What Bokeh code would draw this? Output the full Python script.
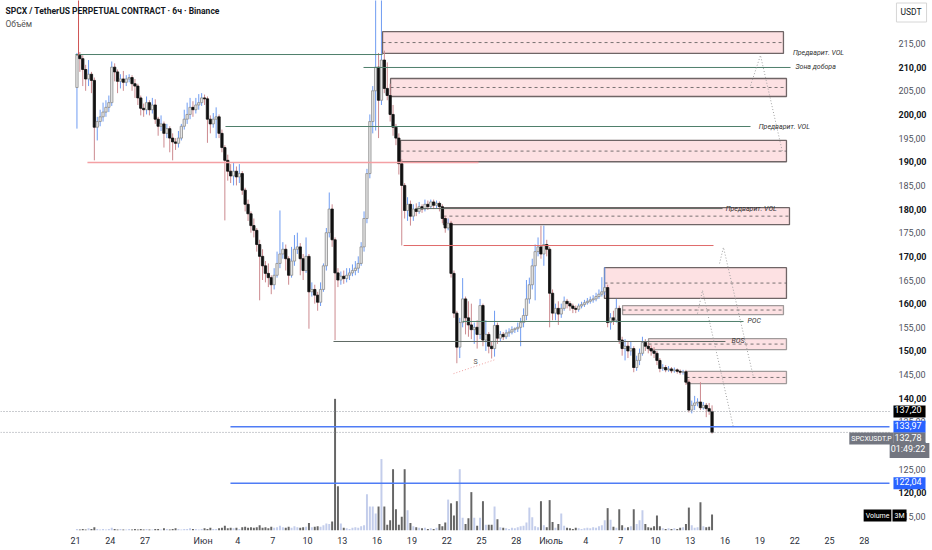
from bokeh.plotting import figure
from bokeh.models import Range1d, FixedTicker, Label
from bokeh.embed import file_html
from bokeh.resources import INLINE
from bokeh.core.properties import value

# ---------------- data (6h candles from 21 May, time in days) ----------------
open_first = 205.7
closes = [
    212.5, 211.8, 209.5, 207.5, 208.5, 207.2, 197.3, 198.5, 199.5, 200.5,
    201.5, 202.5, 210.0, 209.0, 207.0, 207.5, 206.8, 207.5, 207.8, 206.5,
    206.0, 203.5, 201.3, 201.0, 202.5, 201.0, 202.0, 199.0, 197.5, 198.0,
    196.0, 197.0, 195.0, 194.2, 193.9, 195.0, 197.5, 199.0, 200.0, 201.5,
    201.0, 202.0, 202.5, 203.5, 203.3, 199.0, 198.0, 199.0, 199.5, 196.0,
    193.0, 190.3, 188.0, 187.0, 188.0, 186.8, 187.5, 184.0, 181.0, 179.0,
    176.5, 175.5, 172.5, 170.0, 168.0, 166.4, 165.5, 164.0, 166.0, 168.5,
    170.5, 171.5, 169.5, 166.0, 169.0, 171.5, 172.0, 169.5, 167.0, 170.0,
    162.5, 163.0, 161.8, 160.3, 163.0, 168.0, 175.0, 180.0, 173.5, 166.5,
    165.0, 165.8, 165.3, 166.0, 166.5, 167.0, 167.5, 168.5, 172.0, 178.0,
    187.5, 198.5, 205.0, 210.0, 203.0, 211.5, 205.5, 204.0, 200.0, 197.3,
    195.0, 189.6, 185.0, 179.7, 181.0, 178.5, 180.0, 179.5, 180.5, 180.0,
    181.0, 180.5, 181.5, 180.8, 181.2, 180.5, 178.0, 176.0, 177.0, 166.4,
    158.0, 150.8, 156.0, 161.0, 157.0, 155.5, 154.5, 155.0, 153.5, 159.6,
    152.3, 153.5, 151.0, 150.5, 155.4, 152.7, 153.5, 153.0, 153.8, 154.0,
    154.5, 154.7, 155.0, 156.0, 157.5, 161.0, 164.0, 168.0, 171.0, 172.0,
    170.5, 172.5, 171.5, 162.2, 158.0, 159.0, 157.8, 159.0, 160.5, 160.0,
    159.5, 159.0, 158.8, 159.5, 159.8, 160.2, 160.5, 160.8, 161.0, 161.5,
    162.0, 162.5, 163.4, 156.0, 157.0, 156.5, 159.0, 152.3, 150.5, 151.0,
    150.0, 150.5, 146.5, 148.0, 149.5, 151.8, 151.0, 150.5, 150.0, 149.5,
    148.0, 146.3, 146.5, 146.0, 146.2, 145.8, 146.0, 145.7, 145.5, 145.6,
    143.4, 137.5, 138.5, 139.0, 139.2, 138.0, 138.5, 137.8, 137.2, 132.78,
]
highs = [
    213.0, 213.2, 212.5, 210.5, 211.5, 209.0, 207.8, 199.5, 201.0, 202.5,
    203.0, 204.0, 211.2, 210.8, 209.5, 208.5, 209.2, 208.3, 208.5, 208.3,
    207.5, 206.5, 204.0, 202.3, 203.8, 203.0, 203.5, 203.2, 199.5, 199.8,
    198.5, 198.0, 197.5, 196.0, 195.0, 196.5, 198.0, 201.0, 202.5, 203.5,
    202.8, 203.5, 204.3, 204.5, 204.2, 203.8, 199.8, 200.3, 201.5, 200.0,
    196.8, 193.5, 191.5, 189.5, 189.8, 189.0, 189.5, 188.0, 184.5, 182.0,
    179.5, 178.0, 176.0, 173.5, 171.5, 169.0, 168.5, 166.0, 167.5, 171.0,
    179.7, 173.0, 172.5, 170.0, 172.0, 174.5, 175.0, 172.8, 170.5, 174.0,
    170.5, 164.5, 164.0, 162.5, 164.5, 168.5, 176.0, 183.5, 181.0, 174.0,
    167.5, 166.8, 167.0, 167.5, 167.5, 168.3, 169.0, 170.0, 173.0, 179.5,
    188.5, 200.0, 206.0, 226.0, 213.0, 226.0, 213.5, 211.0, 206.5, 202.0,
    198.0, 196.0, 190.5, 185.5, 182.5, 181.8, 181.0, 181.2, 181.5, 181.0,
    182.0, 181.8, 182.0, 182.0, 181.8, 181.6, 181.0, 178.5, 178.0, 177.5,
    167.0, 158.5, 157.0, 165.4, 161.5, 160.5, 160.0, 156.0, 156.5, 161.0,
    160.0, 156.5, 154.0, 152.0, 158.5, 156.0, 154.2, 154.0, 154.5, 154.8,
    155.2, 155.0, 156.0, 157.0, 159.0, 165.0, 165.5, 169.5, 172.5, 174.0,
    176.5, 176.5, 173.5, 172.0, 163.0, 160.0, 160.5, 160.0, 161.5, 161.0,
    160.5, 160.0, 159.6, 160.0, 160.4, 160.8, 161.2, 161.5, 161.8, 162.3,
    163.0, 165.6, 167.7, 164.0, 158.0, 158.5, 161.0, 159.6, 153.0, 152.5,
    152.0, 152.0, 151.0, 149.0, 150.5, 153.0, 152.5, 151.8, 151.2, 150.8,
    150.0, 148.5, 147.2, 147.0, 146.8, 146.6, 146.5, 146.3, 146.1, 146.0,
    146.0, 144.0, 139.5, 140.5, 140.0, 143.4, 139.2, 139.0, 139.0, 138.5,
]
lows = [
    197.0, 209.0, 206.0, 205.0, 206.0, 204.5, 190.3, 194.5, 197.5, 198.5,
    199.5, 200.5, 201.8, 207.0, 204.5, 205.5, 205.0, 206.0, 206.8, 205.0,
    203.5, 202.0, 199.8, 199.5, 200.0, 199.8, 200.2, 198.0, 195.5, 196.5,
    193.0, 195.0, 192.0, 190.3, 192.5, 193.0, 194.5, 196.8, 198.0, 199.0,
    199.5, 200.2, 201.0, 201.8, 202.0, 194.0, 196.0, 197.2, 195.0, 195.0,
    192.0, 177.6, 186.0, 185.5, 185.0, 185.0, 185.5, 183.0, 179.5, 177.5,
    175.0, 174.0, 171.0, 160.7, 165.0, 164.5, 163.5, 162.0, 163.0, 165.5,
    167.5, 169.5, 167.0, 164.0, 165.5, 168.0, 170.5, 166.0, 165.0, 166.5,
    154.7, 161.5, 160.0, 158.5, 159.5, 162.5, 167.0, 174.0, 172.0, 152.3,
    163.5, 164.0, 164.2, 164.5, 165.0, 165.8, 166.0, 166.5, 168.0, 171.0,
    177.0, 186.5, 196.0, 196.6, 195.0, 202.0, 204.5, 203.0, 198.5, 195.5,
    193.5, 187.3, 172.3, 178.0, 177.5, 176.5, 177.5, 178.5, 179.0, 179.2,
    179.5, 179.8, 180.0, 180.0, 180.2, 179.5, 177.0, 175.0, 175.5, 165.5,
    157.0, 147.4, 148.5, 155.0, 153.5, 153.0, 152.5, 151.5, 150.5, 152.5,
    151.0, 150.0, 149.5, 148.4, 148.8, 151.5, 152.0, 152.3, 152.5, 153.0,
    153.5, 153.8, 154.0, 151.0, 155.0, 156.5, 160.0, 163.0, 160.7, 170.0,
    169.5, 168.0, 170.0, 155.0, 156.5, 156.5, 155.5, 157.0, 158.5, 159.0,
    158.5, 158.0, 158.0, 158.3, 159.0, 159.3, 159.8, 160.0, 160.2, 160.5,
    161.0, 161.5, 161.8, 155.0, 154.5, 155.5, 156.0, 151.5, 149.0, 148.0,
    148.5, 149.0, 145.5, 145.8, 147.0, 149.0, 150.0, 149.5, 149.0, 148.5,
    147.0, 145.5, 145.8, 145.5, 145.6, 145.3, 145.4, 145.2, 145.0, 145.0,
    142.8, 137.0, 136.8, 137.5, 138.3, 137.5, 137.6, 136.0, 136.5, 132.5,
]
volumes_m = [
    0.3, 0.2, 0.3, 0.2, 0.4, 0.3, 0.6, 0.3, 0.2, 0.3, 0.2, 0.3, 0.5, 0.3, 0.2, 0.3, 0.2, 0.2, 0.3, 0.2, 0.3,
    0.2, 0.3, 0.2, 0.3, 0.2, 0.2, 0.3, 0.3, 0.2, 0.4, 0.3, 0.2, 0.3, 0.4, 0.3, 0.2, 0.3, 0.3, 0.4, 0.3,
    0.3, 0.2, 0.3, 0.4, 0.3, 0.5, 0.3, 0.3, 0.4, 0.5,
    0.9, 0.4, 0.5, 0.4, 0.5, 0.3, 0.6, 0.7, 0.5, 0.6, 0.5, 0.6, 1.0, 0.5, 0.6, 0.4, 0.7, 0.5, 0.6, 0.9,
    0.6, 0.5, 0.7, 0.5, 0.8, 0.6, 0.5, 0.6, 0.7, 1.4, 0.6, 0.7, 0.8, 0.7, 1.0, 1.3, 1.2, 1.7,
    24.7, 8.3, 1.3, 0.5, 0.4, 0.3, 0.5, 0.6, 0.5, 0.8, 1.0,
    6.8, 4.5, 4.5, 3.2, 4.5, 13.4, 4.5, 1.1, 1.9, 11.5, 4.0, 1.1, 2.6, 11.5, 3.8, 1.4, 0.8, 0.6, 0.5, 0.4,
    0.5, 0.3, 0.4, 0.3, 0.5,
    1.2, 0.8, 1.5, 5.8, 5.1, 2.8, 5.5, 11.5, 2.4, 1.2, 2.3, 7.2, 2.4, 0.9, 2.4, 5.5, 1.1, 1.1, 1.1, 4.5, 2.1,
    0.6, 0.5, 0.4, 0.3, 0.5, 0.4, 0.6, 0.8, 0.9, 1.5, 4.3, 2.5, 0.8, 0.6, 5.5, 1.0, 0.6, 5.7, 1.6, 0.5,
    1.2, 3.2, 0.9, 0.5,
    0.4, 0.3, 0.5, 0.4, 0.3, 0.4, 0.5, 0.4, 0.6, 0.5,
    0.8, 1.0, 1.9, 4.2, 2.0, 0.7, 0.5, 4.0, 1.0, 0.5, 0.6, 0.8, 4.0, 1.2, 1.9, 3.8, 1.2, 0.6, 0.5, 0.8,
    2.8, 0.8, 0.4, 0.3, 0.4, 0.3, 0.4, 0.3, 0.5, 0.6, 1.2, 4.3, 1.0, 0.5, 0.6, 5.3, 0.8, 0.6, 0.7, 3.0,
]

# axis ticks (days since 21 May) and price scale labels
date_ticks = [0, 3, 6, 11, 14, 17, 20, 23, 26, 29, 32, 35, 38, 41, 44, 47, 50, 53, 56, 59, 62, 65, 68]
date_labels = ["21", "24", "27", "Июн", "4", "7", "10", "13", "16", "19", "22", "25", "28",
               "Июль", "4", "7", "10", "13", "16", "19", "22", "25", "28"]
price_ticks = [115, 120, 125, 130, 135, 140, 145, 150, 155, 160, 165, 170, 175, 180,
               185, 190, 195, 200, 205, 210, 215]

# drawings: zones (days / prices)
zone_left = [26.47, 27.16, 28.02, 31.72, 45.60, 47.16, 49.40, 52.67]
zone_right = [61.03, 61.29, 61.29, 61.55, 61.29, 61.03, 61.29, 61.29]
zone_top = [217.5, 207.6, 194.5, 180.3, 167.6, 159.6, 152.6, 145.7]
zone_bottom = [212.9, 203.8, 190.0, 176.7, 161.1, 157.7, 150.3, 143.1]

# horizontal levels
lvl_start = [0.0, 24.83, 12.93, 1.03, 28.28, 33.36, 22.24, 29.31]
lvl_end = [26.47, 61.64, 58.19, 34.74, 55.0, 57.59, 56.03, 55.78]
lvl_price = [212.67, 209.93, 197.45, 189.84, 172.29, 156.23, 152.0, 180.1]
lvl_kind = ["green", "green", "green", "pink", "red", "green", "dark", "dark"]

# text notes on levels
note_text = ["Предварит. VOL", "Зона добора", "Предварит. VOL", "Предварит. VOL", "POC", "BOS"]
note_day = [61.85, 62.07, 58.9, 56.05, 57.93, 56.55]
note_price = [212.9, 209.93, 197.45, 180.1, 156.23, 152.0]

# projected paths (dotted)
proj_days = [[58.19, 59.05, 60.95], [55.52, 55.86, 58.45], [53.62, 54.05, 56.72]]
proj_prices = [[206.1, 212.5, 192.0], [168.5, 171.9, 144.4], [157.9, 162.8, 133.8]]

s_days = [32.59, 36.21]
s_prices = [145.2, 148.2]

prev_close = 137.20
blue_levels = [133.97, 122.04]
blue_start = 13.36
red_vline_day = 0.26
red_vline_prices = [212.5, 226.0]

# ---------------- calibration of the page (pixels -> data) ----------------
PX_DAY, X0 = 11.6, 75.0
PX_UNIT, Y215 = 4.73, 43.0


def dx(X):
    return (X - X0) / PX_DAY


def py(Y):
    return 215.0 - (Y - Y215) / PX_UNIT


X_LO, X_HI = dx(0), dx(932)
AREA_END = dx(889)
Y_LO, Y_HI = py(530), py(0)
VOL_HI = 530 / 5.33

p = figure(width=932, height=550, x_range=Range1d(X_LO, X_HI), y_range=Range1d(Y_LO, Y_HI),
           y_axis_location=None, toolbar_location=None, output_backend="svg",
           min_border_left=0, min_border_right=0, min_border_top=0, min_border_bottom=20)
p.extra_y_ranges = {"vol": Range1d(0, VOL_HI)}
p.outline_line_color = None
p.grid.visible = False
p.background_fill_color = "white"
p.border_fill_color = "white"

ax = p.xaxis
ax.axis_line_color = None
ax.major_tick_line_color = None
ax.minor_tick_line_color = None
ax.major_tick_out = 0
ax.major_tick_in = 0
ax.minor_tick_out = 0
ax.major_label_text_font = "Roboto"
ax.major_label_text_font_size = "9px"
ax.major_label_text_color = "#2a2e39"
ax.major_label_standoff = 5
ax.ticker = FixedTicker(ticks=date_ticks)
ax.major_label_overrides = {d: s for d, s in zip(date_ticks, date_labels)}

n = min(len(closes), len(highs), len(lows), len(volumes_m))
opens = [open_first] + closes[:n - 1]
t = [i * 0.25 + 0.125 for i in range(n)]
up = [closes[i] >= opens[i] for i in range(n)]

# volume
p.vbar(x=t, width=0.17, top=volumes_m[:n], bottom=0, y_range_name="vol",
       fill_color=["#c3cdeb" if u else "#666666" for u in up], line_color=None)

# zones
p.quad(left=zone_left, right=zone_right, top=zone_top, bottom=zone_bottom,
       fill_color="#f23645", fill_alpha=0.15,
       line_color=["#6f6566"] * 5 + ["#a09a9a"] * 3, line_width=1.3)
mid = [(a + b) / 2 for a, b in zip(zone_top, zone_bottom)]
p.segment(x0=zone_left, x1=zone_right, y0=mid, y1=mid, line_color="#555555",
          line_dash="3 3", line_width=0.8)

# candles
body_top = [max(opens[i], closes[i]) for i in range(n)]
body_bot = [min(opens[i], closes[i]) for i in range(n)]
hi = [max(highs[i], body_top[i]) for i in range(n)]
lo = [min(lows[i], body_bot[i]) for i in range(n)]
p.segment(x0=t, x1=t, y0=lo, y1=hi,
          line_color=["#6f9cf2" if u else "#cc8a8f" for u in up], line_width=1)
p.vbar(x=t, width=0.2, top=body_top, bottom=body_bot,
       fill_color=["#e6e6e6" if u else "#111111" for u in up],
       line_color=["#8c8c8c" if u else "#111111" for u in up], line_width=0.8)

# levels
kind_color = {"green": "#4f7f6b", "pink": "#f4a0a4", "red": "#e06a6a", "dark": "#5f6a64"}
kind_width = {"green": 1.0, "pink": 1.6, "red": 1.0, "dark": 1.0}
for a, b, pr, k in zip(lvl_start, lvl_end, lvl_price, lvl_kind):
    p.line([a, b], [pr, pr], line_color=kind_color[k], line_width=kind_width[k])

p.line([red_vline_day, red_vline_day], red_vline_prices, line_color="#d05555", line_width=1)

# projections
for xs, ys in zip(proj_days, proj_prices):
    p.line(xs, ys, line_color="#a2a2a2", line_dash="1 2", line_width=1)
p.line(s_days, s_prices, line_color="#f0a0a0", line_dash="1 2", line_width=1)

# price lines
p.line([X_LO, AREA_END], [prev_close, prev_close], line_color="#9598a1", line_dash="1 2", line_width=1)
p.line([X_LO, AREA_END], [closes[n - 1], closes[n - 1]], line_color="#9598a1", line_dash="1 2",
       line_width=1)
for bl in blue_levels:
    p.line([blue_start, AREA_END], [bl, bl], line_color="#4f7cf5", line_width=1.4)

# price scale labels (right side)
minor_t = [v for v in price_ticks if v % 10]
major_t = [v for v in price_ticks if v % 10 == 0]
p.text(x=[dx(898)] * len(minor_t), y=minor_t, text=[f"{v},00" for v in minor_t],
       text_font=value("Roboto"), text_font_size="9px", text_color="#50535e",
       text_align="left", text_baseline="middle")
p.text(x=[dx(898)] * len(major_t), y=major_t, text=[f"{v},00" for v in major_t],
       text_font=value("Roboto"), text_font_size="9px", text_color="#131722",
       text_font_style="bold", text_align="left", text_baseline="middle")


def lab(x, y, text, size="9px", color="#131722", align="left", bg=None, style="normal",
        border=None, pad=(1, 4, 1, 4)):
    kw = dict(x=x, y=y, text=text, text_font="Roboto", text_font_size=size, text_color=color,
              text_align=align, text_baseline="middle", text_font_style=style)
    if bg is not None:
        kw.update(background_fill_color=bg, padding=pad)
    if border is not None:
        kw.update(border_line_color=border, border_line_width=1)
    p.add_layout(Label(**kw))


for txt, d, pr in zip(note_text, note_day, note_price):
    lab(d, pr, txt, size="7px", color="#333333", style="italic")
lab(dx(473), py(361), "S", size="7px", color="#555555")

lab(dx(5), py(10), "SPCX / TetherUS PERPETUAL CONTRACT · 6ч · Binance", size="8.5px",
    color="#131722", style="bold")
lab(dx(5), py(23), "Объём", size="8.5px", color="#555555")

lab(dx(911), py(12), "USDT", size="8.5px", color="#131722", align="center", bg="white",
    border="#d6d6d6", pad=(4, 5, 4, 5))
lab(dx(909), prev_close, "137,20", color="white", align="center", bg="#000000")
lab(dx(909), blue_levels[0], "133,97", color="white", align="center", bg="#2962ff")
lab(dx(909), blue_levels[1], "122,04", color="white", align="center", bg="#2962ff")
lab(dx(909), py(438), f"{closes[n - 1]:.2f}".replace(".", ","), color="white", align="center",
    bg="#737680")
lab(dx(909), py(450), "01:49:22", color="white", align="center", bg="#737680")
lab(dx(871), py(438), "SPCXUSDT.P", size="7px", color="white", align="center", bg="#737680",
    pad=(2, 2, 2, 2))
lab(dx(877), py(515), "Volume", size="7px", color="white", align="center", bg="#000000",
    pad=(2, 2, 2, 2))
lab(dx(899), py(515), "3M", size="7px", color="white", align="center", bg="#000000",
    pad=(2, 2, 2, 2))

open("out.html", "w").write(file_html(p, INLINE))
